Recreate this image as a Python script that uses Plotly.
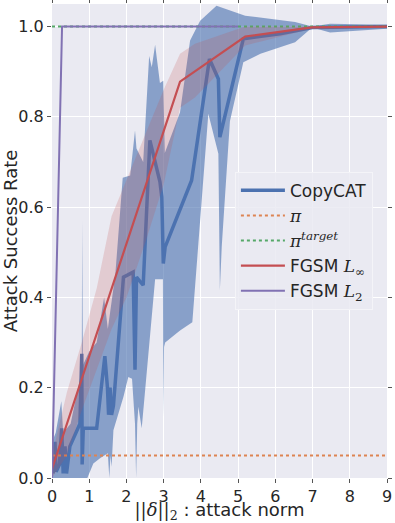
import plotly.graph_objects as go

# CopyCAT mean curve
copycat_x = [0.03, 0.08, 0.11, 0.2, 0.26, 0.30, 0.35, 0.39, 0.48, 0.66, 0.75, 0.80, 0.81, 0.84,
             1.2, 1.42, 1.49, 1.52, 1.56, 1.6, 1.65, 1.92, 2.18, 2.23, 2.27, 2.45, 2.63, 2.9,
             2.95, 2.99, 3.04, 3.75, 4.23, 4.47, 4.51, 5.14, 6.13, 6.99, 9.0]
copycat_y = [0.01, 0.08, 0.014, 0.03, 0.11, 0.01, 0.07, 0.01, 0.07, 0.106, 0.12, 0.275, 0.03, 0.11,
             0.11, 0.27, 0.20, 0.14, 0.2, 0.14, 0.16, 0.445, 0.456, 0.24, 0.445, 0.427, 0.748, 0.656,
             0.622, 0.475, 0.512, 0.659, 0.928, 0.884, 0.755, 0.973, 0.984, 0.998, 1.0]

# CopyCAT spread (upper / lower edge)
copycat_up_x = [0.0, 0.1, 0.25, 0.3, 0.5, 0.7, 0.8, 0.81, 0.83, 1.0, 1.2, 1.4, 1.5, 1.7, 1.9, 2.1,
                2.23, 2.27, 2.45, 2.61, 2.68, 2.77, 2.9, 2.99, 3.03, 3.44, 3.71, 3.98, 4.42, 5.19,
                6.53, 6.99, 7.47, 9.0]
copycat_up = [0.08, 0.1, 0.17, 0.1, 0.12, 0.2, 0.24, 0.57, 0.25, 0.28, 0.3, 0.4, 0.33, 0.45, 0.665, 0.67,
              0.77, 0.73, 0.70, 0.935, 0.91, 0.96, 0.875, 0.88, 0.72, 0.81, 0.969, 1.013, 1.046, 1.024,
              1.01, 1.0, 1.006, 1.004]
copycat_lo_x = [0.0, 0.95, 1.11, 1.29, 1.5, 1.54, 1.57, 1.6, 1.65, 1.92, 2.05, 2.15, 2.23, 2.26, 2.29,
                2.32, 2.41, 2.54, 2.77, 2.98, 2.99, 3.01, 3.04, 3.44, 3.77, 4.2, 4.47, 4.51, 4.56,
                4.78, 5.14, 5.6, 6.53, 6.99, 7.47, 9.0]
copycat_lo = [0.0, 0.0, 0.032, 0.044, 0.055, 0.0, 0.05, 0.025, 0.106, 0.18, 0.224, 0.22, 0.12, 0.0, 0.12,
              0.158, 0.11, 0.23, 0.44, 0.44, 0.136, 0.29, 0.30, 0.327, 0.345, 0.807, 0.718, 0.416, 0.512,
              0.79, 0.921, 0.94, 0.965, 0.998, 0.987, 0.995]

# FGSM L_inf
fgsm_inf_x = [0.0, 3.44, 5.19, 6.98, 9.0]
fgsm_inf_y = [0.02, 0.878, 0.978, 0.998, 1.0]
fgsm_inf_band_x = [0.0, 0.4, 0.8, 1.2, 1.6, 2.0, 2.5, 3.0, 3.44, 3.84, 5.19, 6.98, 9.0]
fgsm_inf_up = [0.05, 0.19, 0.30, 0.42, 0.58, 0.66, 0.76, 0.86, 0.94, 0.962, 1.0, 1.0, 1.0]
fgsm_inf_lo = [0.0, 0.05, 0.15, 0.24, 0.33, 0.40, 0.52, 0.65, 0.82, 0.843, 0.958, 0.995, 0.998]

# FGSM L2
fgsm_l2_x = [0.0, 0.27, 5.0]
fgsm_l2_y = [0.0, 1.0, 1.0]

# policy baselines
pi_y = 0.05
pi_target_y = 1.0

BLUE = "#4C72B0"
ORANGE = "#DD8452"
GREEN = "#55A868"
RED = "#C44E52"
PURPLE = "#8172B3"
SERIF = "font-family:'DejaVu Serif'"

fig = go.Figure()

fig.add_trace(go.Scatter(
    x=copycat_up_x + copycat_lo_x[::-1],
    y=copycat_up + copycat_lo[::-1],
    fill="toself", fillcolor="rgba(76,114,176,0.62)",
    line=dict(width=0), mode="lines", showlegend=False, hoverinfo="skip",
))
fig.add_trace(go.Scatter(
    x=copycat_x, y=copycat_y, mode="lines", name="CopyCAT",
    line=dict(color=BLUE, width=3.5),
))
fig.add_trace(go.Scatter(
    x=[0, 9], y=[pi_y, pi_y], mode="lines",
    name=f'<span style="{SERIF}"><i>π</i></span>',
    line=dict(color=ORANGE, width=2, dash="dot"),
))
fig.add_trace(go.Scatter(
    x=[0, 9], y=[pi_target_y, pi_target_y], mode="lines",
    name=f'<span style="{SERIF}"><i>π<sup>target</sup></i></span>',
    line=dict(color=GREEN, width=2, dash="dot"),
))
fig.add_trace(go.Scatter(
    x=fgsm_inf_band_x + fgsm_inf_band_x[::-1],
    y=fgsm_inf_up + fgsm_inf_lo[::-1],
    fill="toself", fillcolor="rgba(196,78,82,0.2)",
    line=dict(width=0), mode="lines", showlegend=False, hoverinfo="skip",
))
fig.add_trace(go.Scatter(
    x=fgsm_inf_x, y=fgsm_inf_y, mode="lines",
    name=f'FGSM <span style="{SERIF}"><i>L</i><sub>∞</sub></span>',
    line=dict(color=RED, width=2.2),
))
fig.add_trace(go.Scatter(
    x=fgsm_l2_x, y=fgsm_l2_y, mode="lines",
    name=f'FGSM <span style="{SERIF}"><i>L</i><sub>2</sub></span>',
    line=dict(color=PURPLE, width=2),
))

axis_common = dict(
    showgrid=True, gridcolor="white", gridwidth=1, zeroline=False,
    ticks="outside", ticklen=4, tickcolor="#555555", mirror="ticks",
    showline=False, automargin=False, tickfont=dict(size=16, color="#262626"),
)

fig.update_layout(
    width=395, height=523,
    margin=dict(l=52, r=8, t=4, b=45),
    paper_bgcolor="white", plot_bgcolor="#EAEAF2",
    font=dict(family="DejaVu Sans", color="#262626"),
    xaxis=dict(range=[0, 9], dtick=1, ticklabeloverflow="allow",
               title=dict(text=f'<span style="{SERIF}">||<i>δ</i>||<sub>2</sub></span> : attack norm',
                          font=dict(size=18), standoff=2),
               **axis_common),
    yaxis=dict(range=[0, 1.05], dtick=0.2, tickformat=".1f",
               title=dict(text="Attack Success Rate", font=dict(size=18), standoff=4),
               **axis_common),
    legend=dict(x=0.546, y=0.646, xanchor="left", yanchor="top", itemwidth=44,
                bgcolor="rgba(234,234,242,0.85)", bordercolor="#F4F4F8", borderwidth=1,
                font=dict(size=17, color="#262626"), tracegroupgap=0),
    showlegend=True,
)

# drop the browser's default page margin so the figure sits at the top-left corner
fig.write_html("out.html", config={"displayModeBar": False},
               post_script="document.body.style.margin='0px';")
